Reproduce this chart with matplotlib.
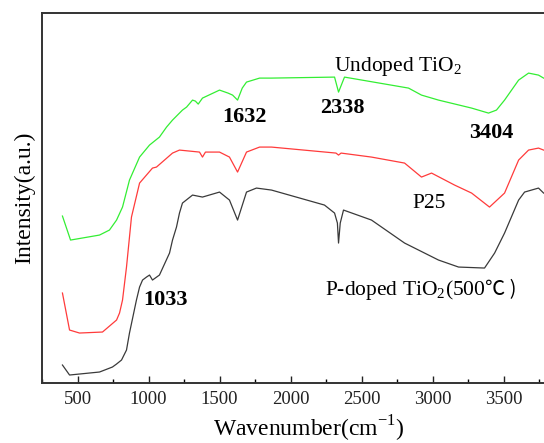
import matplotlib

matplotlib.use("Agg")
import matplotlib.pyplot as plt
from matplotlib.ticker import MultipleLocator

plt.rcParams["font.family"] = ["Liberation Serif", "DejaVu Serif"]
plt.rcParams["mathtext.fontset"] = "custom"
plt.rcParams["mathtext.rm"] = "Liberation Serif"

# FTIR spectra, intensity in arbitrary units
undoped_wn = [394, 451, 655, 725, 775, 817, 866, 937, 1007, 1077, 1127, 1169,
              1239, 1268, 1310, 1330, 1350, 1380, 1500, 1560, 1592, 1627, 1660,
              1690, 1782, 1866, 2310, 2338, 2380, 2831, 2870, 2922, 3042, 3275,
              3394, 3450, 3507, 3606, 3676, 3746, 3782]
undoped_int = [167, 143, 148, 153, 163, 176, 203, 226, 238, 246, 256, 263,
               273, 276, 283, 282, 279, 285, 293, 290, 288, 283, 295,
               301, 305, 305, 306, 291, 306, 295, 292, 288, 283, 275,
               270, 273, 283, 303, 310, 308, 305]

p25_wn = [394, 444, 514, 676, 775, 796, 817, 845, 880, 937, 1028, 1056, 1169,
          1218, 1359, 1380, 1401, 1500, 1570, 1627, 1690, 1782, 1866, 2320,
          2338, 2356, 2570, 2803, 2922, 2993, 3155, 3275, 3401, 3507, 3606,
          3676, 3746, 3782]
p25_int = [90, 53, 50, 51, 63, 70, 83, 116, 166, 200, 215, 216, 230,
           233, 231, 226, 231, 231, 226, 211, 231, 236, 236, 230,
           228, 230, 226, 220, 206, 210, 198, 190, 176, 190, 223,
           233, 235, 233]

pdoped_wn = [394, 444, 655, 746, 775, 810, 845, 866, 915, 937, 958, 986, 1007,
             1028, 1077, 1148, 1169, 1197, 1218, 1239, 1310, 1380, 1500, 1570,
             1627, 1690, 1760, 1866, 2239, 2310, 2330, 2338, 2350, 2373, 2570,
             2803, 3042, 3183, 3366, 3437, 3507, 3606, 3648, 3746, 3782]
pdoped_int = [18, 8, 11, 16, 19, 23, 33, 50, 83, 96, 103, 106, 108,
              103, 108, 130, 143, 156, 170, 180, 188, 186, 191, 183,
              163, 191, 195, 193, 178, 170, 160, 140, 160, 173, 163,
              140, 123, 116, 115, 130, 150, 183, 191, 195, 190]

TICKS = [500, 1000, 1500, 2000, 2500, 3000, 3500]

fig = plt.figure(figsize=(5.44, 4.43), dpi=100)
ax = fig.add_axes([0.0772, 0.1354, 0.979, 0.835])

ax.plot(undoped_wn, undoped_int, color="#33ee33", lw=0.9)
ax.plot(p25_wn, p25_int, color="#ff3b3b", lw=0.9)
ax.plot(pdoped_wn, pdoped_int, color="#3a3a3a", lw=0.9)

ax.set_xlim(250, 4000)
ax.set_ylim(0, 370)
ax.set_xticks(TICKS)
ax.xaxis.set_minor_locator(MultipleLocator(250))
ax.set_yticks([])
ax.tick_params(axis="x", which="major", direction="in", length=5, width=1.0,
               labelsize=13.5, pad=6, colors="#222222")
ax.tick_params(axis="x", which="minor", direction="in", length=3, width=1.0)
for s in ax.spines.values():
    s.set_linewidth(1.4)
    s.set_color("#333333")

ax.set_xlabel("Wavenumber(cm$^{-1}$)", fontsize=17, labelpad=4)
ax.set_ylabel("Intensity(a.u.)", fontsize=17, labelpad=5)

bold = dict(fontsize=16, fontweight="bold", ha="center", va="center")
ax.text(1676, 266, "1632", **bold)
ax.text(2366, 275, "2338", **bold)
ax.text(3415, 250, "3404", **bold)
ax.text(1120, 83, "1033", **bold)

ax.text(2303, 317, "Undoped TiO$_2$", fontsize=15.5, ha="left", va="center")
ax.text(2979, 180, "P25", fontsize=15.5, ha="center", va="center")
t1 = ax.text(2240, 88, "P-doped TiO$_2$(500", fontsize=15.5,
             ha="left", va="baseline")
ax.annotate("\u2103 )", xy=(1, 88), xycoords=(t1, "data"), fontsize=14.5,
            ha="left", va="baseline",
            family=["Noto Sans CJK SC", "DejaVu Sans"])

fig.savefig("out.png", dpi=100)
